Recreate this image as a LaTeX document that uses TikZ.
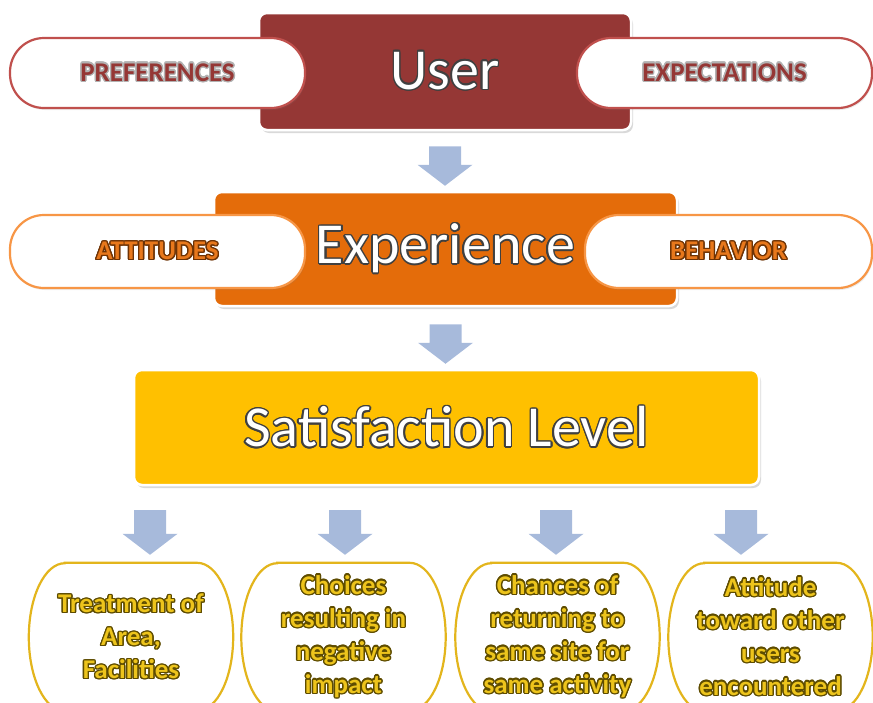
\documentclass[tikz,border=0pt]{standalone}
\usepackage{fontspec}
\setmainfont{Carlito}
\usepackage{contour}
\usetikzlibrary{calc,shadows,backgrounds}
\contourlength{0.05em}
\definecolor{userred}{HTML}{953735}
\definecolor{pinkline}{HTML}{C0504D}
\definecolor{exporange}{HTML}{E46C0A}
\definecolor{orangeline}{HTML}{F79646}
\definecolor{orangetext}{HTML}{E8781C}
\definecolor{orangeedge}{HTML}{6E3305}
\definecolor{satgold}{HTML}{FFC000}
\definecolor{goldline}{HTML}{E3B51C}
\definecolor{goldtext}{HTML}{EDC41C}
\definecolor{goldedge}{HTML}{5E4C00}
\definecolor{arrowblue}{HTML}{A7BADB}
\newcommand{\goldline}[1]{\contour{goldedge}{#1}}

\begin{document}
\begin{tikzpicture}[x=1pt, y=1pt,
    mainbox/.style={rectangle, rounded corners=8pt, draw=white, line width=2.5pt, text=white,
      font=\fontsize{58}{60}\selectfont,
      drop shadow={shadow xshift=2pt, shadow yshift=-3pt, opacity=0.3}},
    pill/.style={rectangle, rounded corners=34pt, fill=white, line width=2.2pt, minimum width=295pt,
      minimum height=70pt, font=\bfseries\fontsize{27}{30}\selectfont,
      drop shadow={shadow xshift=1pt, shadow yshift=-2pt, opacity=0.15}},
    oval/.style={inner sep=0pt, minimum width=204pt, minimum height=148pt, align=center,
      text=goldtext, font=\bfseries\fontsize{27}{33}\selectfont},
    ovalline/.style={fill=white, draw=goldline, line width=2.2pt},
    blockarr/.style={fill=arrowblue, to path={let \p1=(\tikztostart), \p2=(\tikztotarget) in
      (\x1-16,\y1) -- (\x1+16,\y1) -- (\x1+16,\y2+21) -- (\x1+27.5,\y2+21) -- (\x1,\y2)
      -- (\x1-27.5,\y2+21) -- (\x1-16,\y2+21) -- cycle}}]
    \useasboundingbox (0,0) rectangle (873,-702);
    \clip (0,0) rectangle (873,-702);

    \node[mainbox, fill=userred, minimum width=372, minimum height=117] (user) at (445,-71.5)
      {\contourlength{0.025em}\contour{black!75}{User}};
    \node[pill, draw=pinkline, text=userred] (pref) at (157.5,-73) {\contour{black!30}{PREFERENCES}};
    \node[pill, draw=pinkline, text=userred] (expect) at (724.5,-73) {\contour{black!30}{EXPECTATIONS}};

    \node[mainbox, fill=exporange, minimum width=463, minimum height=114] (exp) at (445.5,-249)
      {\contourlength{0.025em}\contour{black!75}{Experience}};
    \node[pill, draw=orangeline, text=orangetext, minimum height=73] (att) at (157.5,-251.5)
      {\contour{orangeedge}{ATTITUDES}};
    \node[pill, draw=orangeline, text=orangetext, minimum height=73, minimum width=287] (beh) at (728.5,-251.5)
      {\contour{orangeedge}{BEHAVIOR}};

    \node[mainbox, fill=satgold, minimum width=625, minimum height=115] (sat) at (446.5,-427.5)
      {\contourlength{0.025em}\contour{black!75}{Satisfaction Level}};

    \node[oval] (c1) at (131,-637) {\goldline{Treatment of}\\\goldline{Area,}\\\goldline{Facilities}};
    \node[oval] (c2) at (343.5,-637) {\goldline{Choices}\\\goldline{resulting in}\\\goldline{negative}\\\goldline{impact}};
    \node[oval] (c3) at (557.5,-637) {\goldline{Chances of}\\\goldline{returning to}\\\goldline{same site for}\\\goldline{same activity}};
    \node[oval] (c4) at (770.5,-637) {\goldline{Attitude}\\\goldline{toward other}\\\goldline{users}\\\goldline{encountered}};
    \begin{scope}[on background layer]
      \foreach \c in {c1,c2,c3,c4}
        \draw[ovalline] ([xshift=36pt]\c.north west) -- ([xshift=-36pt]\c.north east)
          arc[start angle=90, end angle=-90, x radius=36pt, y radius=74pt]
          -- ([xshift=36pt]\c.south west)
          arc[start angle=270, end angle=90, x radius=36pt, y radius=74pt] -- cycle;
    \end{scope}

    \path[blockarr] ([yshift=-15pt]user.south) to ([yshift=5pt]exp.north);
    \path[blockarr] ([yshift=-17pt]exp.south) to ([yshift=5pt]sat.north);

    \coordinate (s1) at (150,-510);
    \coordinate (s2) at (345,-510);
    \coordinate (s3) at (556,-510);
    \coordinate (s4) at (741,-510);
    \path[blockarr] (s1) to ([yshift=8pt]s1 |- c1.north);
    \path[blockarr] (s2) to ([yshift=8pt]s2 |- c2.north);
    \path[blockarr] (s3) to ([yshift=8pt]s3 |- c3.north);
    \path[blockarr] (s4) to ([yshift=8pt]s4 |- c4.north);
\end{tikzpicture}
\end{document}
